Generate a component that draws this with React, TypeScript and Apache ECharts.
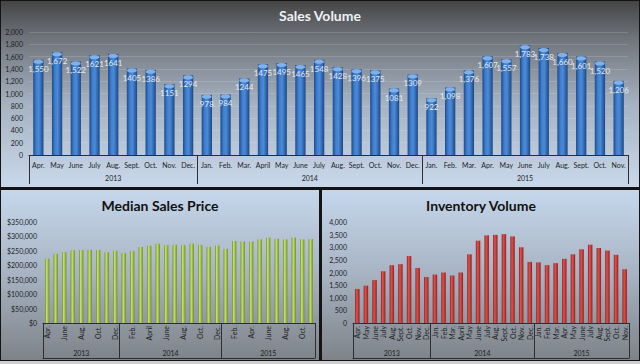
import React, { useEffect, useRef } from "react";
import * as echarts from "echarts";

const years = ["2013", "2014", "2015"];
const yearMonthCounts = [9, 12, 11];
const months = [
  "Apr.", "May", "June", "July", "Aug.", "Sept.", "Oct.", "Nov.", "Dec.",
  "Jan.", "Feb.", "Mar.", "April", "May", "June", "July", "Aug.", "Sept.", "Oct.", "Nov.", "Dec.",
  "Jan.", "Feb.", "Mar.", "Apr.", "May", "June", "July", "Aug.", "Sept.", "Oct.", "Nov.",
];
const salesVolume = [
  1550, 1672, 1522, 1621, 1641, 1405, 1386, 1151, 1294,
  978, 984, 1244, 1475, 1495, 1465, 1548, 1428, 1396, 1375, 1081, 1309,
  922, 1098, 1376, 1607, 1557, 1783, 1738, 1660, 1601, 1520, 1206,
];
// data labels between these indices are shown without thousands separator
const plainLabelRange = [3, 20];
const medianPrice = [
  223000, 240000, 246000, 252000, 253000, 254000, 253000, 245000, 250000,
  242000, 249000, 263000, 268000, 275000, 270000, 271000, 270000, 275000, 271000, 264000, 268000,
  257000, 284000, 282000, 282000, 290000, 296000, 292000, 290000, 296000, 290000, 291000,
];
const inventoryVolume = [
  1350, 1480, 1700, 2050, 2290, 2330, 2650, 2180, 1820,
  1920, 2000, 1880, 2000, 2720, 3260, 3470, 3490, 3520, 3430, 3000, 2420,
  2400, 2290, 2370, 2540, 2720, 2920, 3100, 2970, 2870, 2700, 2130,
];
const titles = ["Sales Volume", "Median Sales Price", "Inventory Volume"];

const FONT = "Lato, 'Open Sans', 'DejaVu Sans', sans-serif";

const boundaries: number[] = [0];
yearMonthCounts.forEach((c, i) => boundaries.push(boundaries[i] + c));
const mids = yearMonthCounts.map((c, i) => boundaries[i] + c / 2);
const total = boundaries[boundaries.length - 1];

const fmt = (v: number) => v.toLocaleString("en-US");

function hGrad(stops: [number, string][]) {
  return {
    type: "linear", x: 0, y: 0, x2: 1, y2: 0,
    colorStops: stops.map(([offset, color]) => ({ offset, color })),
  };
}
function vGrad(stops: [number, string][]) {
  return {
    type: "linear", x: 0, y: 0, x2: 0, y2: 1,
    colorStops: stops.map(([offset, color]) => ({ offset, color })),
  };
}

export default function App() {
  const ref = useRef<HTMLDivElement>(null);
  useEffect(() => {
    if (!ref.current) return;
    const chart = echarts.init(ref.current, undefined, { renderer: "svg" });

    const grids = [
      { left: 29, right: 12, top: 32, bottom: 209 },
      { left: 43, right: 325, top: 222, bottom: 41 },
      { left: 353, right: 11, top: 222, bottom: 41 },
    ];
    const axisColor = "#2e2e2e";
    const xAxes: any[] = [];
    grids.forEach((_, g) => {
      const isTop = g === 0;
      xAxes.push({
        type: "category",
        gridIndex: g,
        data: months,
        boundaryGap: true,
        axisLine: { show: true, lineStyle: { color: axisColor, width: 1 } },
        axisTick: { show: false },
        axisLabel: {
          interval: g === 1 ? 1 : 0,
          rotate: isTop ? 0 : 90,
          fontSize: 7,
          color: "#1e1e1e",
          fontFamily: FONT,
          margin: isTop ? 6 : 3,
        },
        splitLine: { show: false },
      });
      xAxes.push({
        type: "value",
        gridIndex: g,
        min: 0,
        max: total,
        position: "bottom",
        offset: isTop ? 0 : 35,
        axisLine: { show: !isTop, lineStyle: { color: axisColor, width: 1 } },
        axisTick: {
          show: true,
          customValues: boundaries,
          length: isTop ? 29 : 35,
          inside: !isTop,
          lineStyle: { color: axisColor, width: 1 },
        },
        axisLabel: {
          customValues: mids,
          formatter: (v: number) => years[mids.indexOf(v)] ?? "",
          inside: !isTop,
          margin: isTop ? 19 : 2,
          fontSize: 7,
          color: "#1e1e1e",
          fontFamily: FONT,
        },
        splitLine: { show: false },
      });
    });

    const yBase = (g: number, max: number, interval: number, formatter: any, grid: boolean) => ({
      type: "value",
      gridIndex: g,
      min: 0,
      max,
      interval,
      axisLine: { show: false },
      axisTick: { show: false },
      axisLabel: { fontSize: 7, color: "#1e1e1e", fontFamily: FONT, margin: 6, formatter },
      splitLine: { show: grid, lineStyle: { color: "rgba(255,255,255,0.14)", width: 1 } },
    });

    const option: any = {
      animation: false,
      backgroundColor: "#141414",
      graphic: [
        { type: "rect", z: -100, shape: { x: 1, y: 1, width: 638, height: 186 },
          style: { fill: vGrad([[0, "#454545"], [0.2, "#6f747b"], [0.55, "#a6b2c1"], [1, "#c9d8eb"]]) } },
        { type: "rect", z: -100, shape: { x: 1, y: 190, width: 318, height: 170 },
          style: { fill: vGrad([[0, "#c6d7ec"], [0.5, "#a7b3c2"], [1, "#7e8389"]]) } },
        { type: "rect", z: -100, shape: { x: 322, y: 190, width: 317, height: 170 },
          style: { fill: vGrad([[0, "#c6d7ec"], [0.5, "#a7b3c2"], [1, "#7e8389"]]) } },
        { type: "rect", z: -100, shape: { x: 0, y: 361, width: 640, height: 3 },
          style: { fill: "#cfcfcf" } },
        { type: "text", z: 10, x: 320, y: 15,
          style: { text: titles[0], fill: "#eef1f5", fontSize: 14, fontWeight: "bold", fontFamily: FONT, align: "center", verticalAlign: "middle" } },
        { type: "text", z: 10, x: 160, y: 205,
          style: { text: titles[1], fill: "#111", fontSize: 14, fontWeight: "bold", fontFamily: FONT, align: "center", verticalAlign: "middle" } },
        { type: "text", z: 10, x: 481, y: 205,
          style: { text: titles[2], fill: "#111", fontSize: 14, fontWeight: "bold", fontFamily: FONT, align: "center", verticalAlign: "middle" } },
      ],
      grid: grids,
      xAxis: xAxes,
      yAxis: [
        yBase(0, 2000, 200, (v: number) => fmt(v), true),
        yBase(1, 350000, 50000, (v: number) => "$" + fmt(v), false),
        yBase(2, 4000, 500, (v: number) => fmt(v), false),
      ],
      series: [
        {
          type: "bar",
          xAxisIndex: 0,
          yAxisIndex: 0,
          data: salesVolume,
          barWidth: "55%",
          itemStyle: {
            color: hGrad([[0, "#1d4b8a"], [0.3, "#3f7fd0"], [0.55, "#4a8ad9"], [1, "#1b4784"]]),
          },
          label: {
            show: true,
            position: "insideTop",
            distance: 5,
            fontSize: 8,
            color: "#e3e9f1",
            fontFamily: FONT,
            formatter: (p: any) =>
              p.dataIndex >= plainLabelRange[0] && p.dataIndex <= plainLabelRange[1]
                ? String(p.value)
                : fmt(p.value),
          },
          z: 2,
        },
        {
          type: "pictorialBar",
          xAxisIndex: 0,
          yAxisIndex: 0,
          data: salesVolume,
          symbol: "circle",
          symbolSize: [10, 4],
          symbolPosition: "end",
          itemStyle: { color: "#7fb2ec" },
          z: 3,
          silent: true,
        },
        {
          type: "bar",
          xAxisIndex: 2,
          yAxisIndex: 1,
          data: medianPrice,
          barWidth: "50%",
          itemStyle: {
            color: hGrad([[0, "#6c8a25"], [0.35, "#c8e46e"], [0.6, "#a6c54e"], [1, "#6f8d29"]]),
          },
        },
        {
          type: "bar",
          xAxisIndex: 4,
          yAxisIndex: 2,
          data: inventoryVolume,
          barWidth: "52%",
          itemStyle: {
            color: hGrad([[0, "#8a1f1d"], [0.35, "#e0504b"], [0.6, "#c9403c"], [1, "#8c211f"]]),
          },
        },
      ],
    };
    chart.setOption(option);
    return () => chart.dispose();
  }, []);
  return (
    <div
      ref={ref}
      style={{ position: "fixed", left: 0, top: 0, width: 640, height: 364 }}
    />
  );
}
